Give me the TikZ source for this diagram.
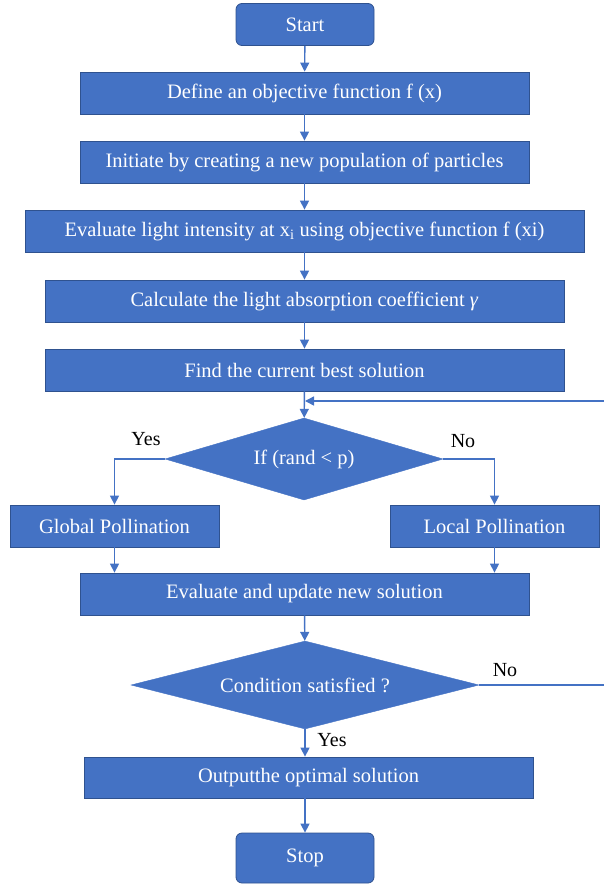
\documentclass[tikz,border=0pt]{standalone}
\usepackage{fontspec}
\setmainfont{Liberation Serif}
\usetikzlibrary{shapes.geometric,arrows.meta}
\definecolor{boxfill}{HTML}{4472C4}
\definecolor{boxdraw}{HTML}{2F528F}
\definecolor{lineblue}{HTML}{4472C4}
\begin{document}
\begin{tikzpicture}[x=1pt,y=-1pt,
  box/.style={draw=boxdraw,fill=boxfill,line width=0.8pt,text=white,inner sep=0pt,minimum height=42pt,font=\fontsize{20.5}{23}\selectfont},
  term/.style={box,rounded corners=6pt,minimum width=138pt},
  dec/.style={diamond,draw=boxfill,fill=boxfill,text=white,inner sep=0pt,font=\fontsize{20.5}{23}\selectfont},
  lbl/.style={font=\fontsize{20}{23}\selectfont,text=black,inner sep=0pt},
  arr/.style={draw=lineblue,line width=1.4pt,-{Triangle[width=9pt,length=9pt]}},
  ln/.style={draw=lineblue,line width=1.4pt}]
\useasboundingbox (0,0) rectangle (603,885);
\node[term] (start) at (305,24.5) {Start};
\node[box,minimum width=449pt] (def) at (304.5,93) {Define an objective function f (x)};
\node[box,minimum width=449pt] (init) at (304.5,162) {Initiate by creating a new population of particles};
\node[box,minimum width=559pt] (eval) at (304.5,231) {Evaluate light intensity at x\textsubscript{i} using objective function f (xi)};
\node[box,minimum width=519pt] (calc) at (304.5,301) {Calculate the light absorption coefficient \textit{γ}};
\node[box,minimum width=519pt] (find) at (304.5,370) {Find the current best solution};
\node[dec,minimum width=278pt,minimum height=82pt,aspect=3.39] (d1) at (304,459) {If (rand < p)};
\node[box,minimum width=209pt] (glob) at (114.5,526) {Global Pollination};
\node[box,minimum width=209pt] (loc) at (494.5,526) {Local Pollination};
\node[box,minimum width=449pt] (upd) at (304.5,594) {Evaluate and update new solution};
\node[dec,minimum width=348pt,minimum height=88pt,aspect=3.95] (d2) at (305,685) {Condition satisfied ?};
\node[box,minimum width=449pt,minimum height=41pt] (out) at (308.5,777.5) {Outputthe optimal solution};
\node[term,minimum height=50pt] (stop) at (305,858) {Stop};
\node[lbl] (yes1) at (146,439) {Yes};
\node[lbl] (no1) at (463,441) {No};
\node[lbl] (no2) at (505,670) {No};
\node[lbl] (yes2) at (332,740) {Yes};
\coordinate (fb) at (305,401);
\coordinate (rt) at (606,685);
\draw[arr] (start) -- (def);
\draw[arr] (def) -- (init);
\draw[arr] (init) -- (eval);
\draw[arr] (eval) -- (calc);
\draw[arr] (calc) -- (find);
\draw[arr] (find) -- (d1);
\draw[arr] (d1.west) -| (glob);
\draw[arr] (d1.east) -| (loc);
\draw[arr] (glob.south) -- (glob.south |- upd.north);
\draw[arr] (loc.south) -- (loc.south |- upd.north);
\draw[arr] (upd) -- (d2);
\draw[arr] (d2.south) -- (d2.south |- out.north);
\draw[arr] (out.south -| stop.north) -- (stop);
\draw[arr] (d2.east) -- (rt) |- (fb);
\end{tikzpicture}
\end{document}
